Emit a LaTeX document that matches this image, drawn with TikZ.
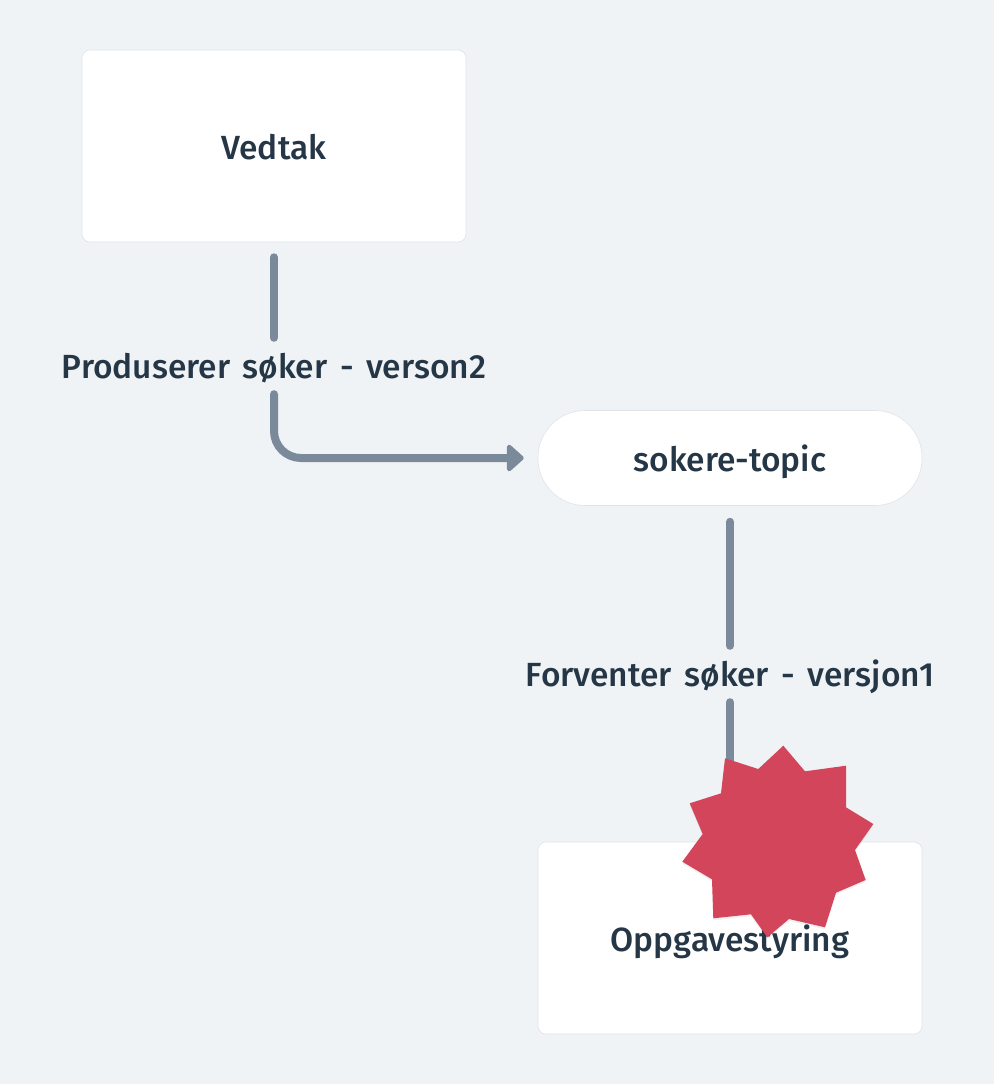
\documentclass[tikz,border=0pt]{standalone}
\usepackage{fontspec}
\setmainfont[WordSpace=1.5]{Fira Sans Medium}
\usetikzlibrary{arrows.meta,positioning,shadows}
\definecolor{pagebg}{HTML}{F0F3F6}
\definecolor{wireclr}{HTML}{7A8A9A}
\definecolor{inkclr}{HTML}{253746}
\definecolor{burstclr}{HTML}{D3455B}
\definecolor{edgeclr}{HTML}{DFE4E8}
\tikzset{
	boxnode/.style={draw=edgeclr, line width=0.6pt, fill=white, rounded corners=8pt, minimum width=384pt, minimum height=192pt, inner sep=0pt, text=inkclr, text height=32pt, text depth=6pt, font=\fontsize{33.5}{38}\selectfont},
	pillnode/.style={boxnode, rounded corners=47pt, minimum height=95pt},
	wirelabel/.style={inner sep=0pt, minimum height=50pt, text=inkclr, text height=28pt, text depth=6pt, font=\fontsize{33.5}{38}\selectfont},
	wire/.style={draw=wireclr, line width=8pt, line cap=round},
}
\begin{document}
\begin{tikzpicture}[x=1pt, y=-1pt]
	\fill[pagebg] (0, 0) rectangle (994, 1084);
	\useasboundingbox (0, 0) rectangle (994, 1084);
	\node[boxnode] (vedtak) at (274, 146) {Vedtak};
	\node[pillnode] (topic) at (730, 458) {sokere-topic};
	\node[boxnode] (oppgave) at (730, 938) {Oppgavestyring};
	\node[wirelabel] (produces) at (274, 367) {Produserer søker - verson2};
	\node[wirelabel] (expects) at (730, 675) {Forventer søker - versjon1};
	\draw[wire, shorten <=15pt, shorten >=4pt] (vedtak.south) -- (produces.north);
	\draw[wire, rounded corners=27pt, shorten <=2pt, shorten >=14pt, -{Triangle[length=18pt, width=31pt, round]}] (produces.south) |- (topic.west);
	\draw[wire, shorten <=16pt, shorten >=4pt] (topic.south) -- (expects.north);
	\draw[wire, shorten <=2pt, shorten >=16pt] (expects.south) -- (oppgave.north);
	% burst on top of everything
	\fill[burstclr, copy shadow={draw=none, fill=black, opacity=0.06, shadow xshift=0pt, shadow yshift=-2pt}]
		(783.3, 745.7) -- (805, 771.3) -- (846, 765.7) -- (846, 807.3) -- (873.3, 824)
		-- (855, 850) -- (865.7, 880) -- (836, 892.7) -- (825, 927.3) -- (789, 919)
		-- (767.3, 937.3) -- (751, 914.3) -- (713.3, 918.3) -- (712, 879.3) -- (682.3, 861.7)
		-- (702.7, 834) -- (689.7, 803.3) -- (721, 793.3) -- (725, 758.3) -- (758.3, 769) -- cycle;
\end{tikzpicture}
\end{document}
